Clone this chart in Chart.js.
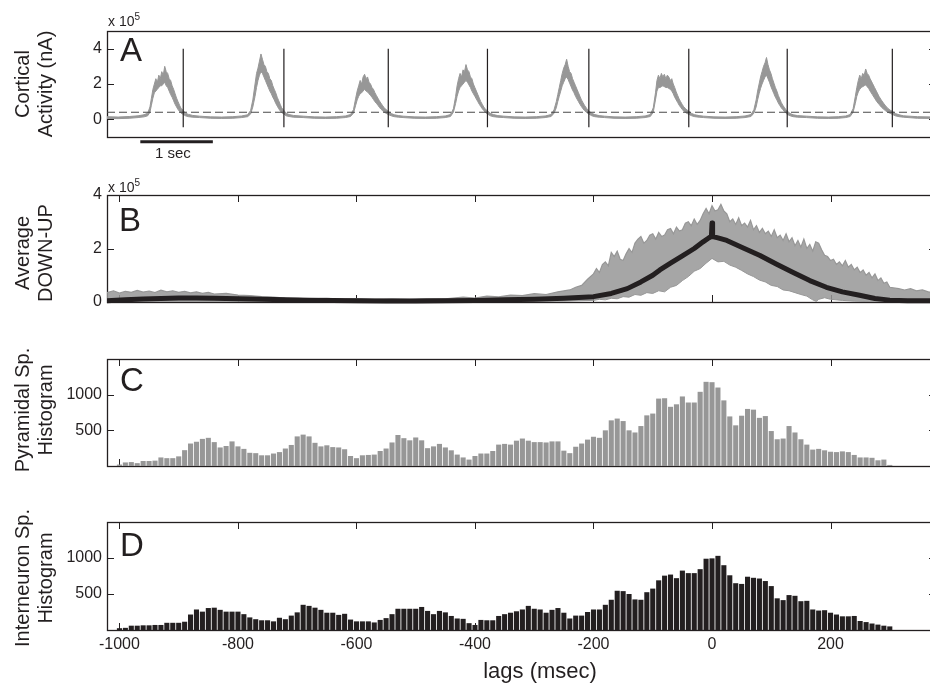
<!DOCTYPE html>
<html>
<head>
<meta charset="utf-8">
<script src="https://cdn.jsdelivr.net/npm/chart.js@4.4.1/dist/chart.umd.min.js"></script>
<style>
  html, body { margin: 0; padding: 0; background: #fff; overflow: hidden; }
  #wrap { position: relative; width: 930px; height: 686px; overflow: hidden; }
  canvas { position: absolute; left: 0; top: 0; }
  .txt { position: absolute; font-family: "Liberation Sans", Arial, sans-serif; color: #231f20; white-space: nowrap; }
  .ytitle { font-size: 20px; line-height: 23px; text-align: center; transform: translate(-50%, -50%) rotate(-90deg); }
  .panel { font-size: 33px; line-height: 32px; }
  .exp { font-size: 14px; line-height: 14px; }
  .exp sup { font-size: 10px; vertical-align: 6px; line-height: 0; }
</style>
</head>
<body>
<div id="wrap">
  <canvas id="cA" width="940" height="686"></canvas>
  <canvas id="cB" width="940" height="686"></canvas>
  <canvas id="cC" width="940" height="686"></canvas>
  <canvas id="cD" width="940" height="686"></canvas>

  <div class="txt ytitle" style="left:34px; top:84px;">Cortical<br>Activity (nA)</div>
  <div class="txt ytitle" style="left:34px; top:253px;">Average<br>DOWN-UP</div>
  <div class="txt ytitle" style="left:34px; top:410px;">Pyramidal Sp.<br>Histogram</div>
  <div class="txt ytitle" style="left:34px; top:578px;">Interneuron Sp.<br>Histogram</div>

  <div class="txt panel" style="left:120px; top:34px;">A</div>
  <div class="txt panel" style="left:119px; top:204px;">B</div>
  <div class="txt panel" style="left:120px; top:364px;">C</div>
  <div class="txt panel" style="left:120px; top:529px;">D</div>

  <div class="txt exp" style="left:108px; top:14px;">x 10<sup>5</sup></div>
  <div class="txt exp" style="left:108px; top:180px;">x 10<sup>5</sup></div>
  <div class="txt" style="left:155px; top:144px; font-size:15px;">1 sec</div>
  <div class="txt" style="left:540px; top:671px; font-size:22px; transform:translate(-50%,-50%);">lags (msec)</div>
</div>

<script>
// ---- panel A : cortical activity trace (x 10^5 nA) vs time (s), drawn as a noisy band ----
const timeA = [
  0, 0.15, 0.30, 0.42, 0.50, 0.55, 0.58, 0.60, 0.62, 0.64, 0.66, 0.68, 0.70, 0.72, 0.74, 0.76, 0.78, 0.80, 0.82, 0.84, 0.86, 0.88, 0.90, 0.92, 0.94, 0.96, 0.98, 1.00, 1.03, 1.06, 1.10, 1.16,
  1.25, 1.40, 1.55, 1.70, 1.82, 1.90, 1.94, 1.97, 2.00, 2.02, 2.04, 2.06, 2.08, 2.10, 2.12, 2.14, 2.16, 2.18, 2.20, 2.22, 2.24, 2.26, 2.28, 2.30, 2.32, 2.34, 2.36, 2.39, 2.42, 2.46, 2.52,
  2.65, 2.80, 2.95, 3.10, 3.22, 3.29, 3.33, 3.36, 3.38, 3.40, 3.42, 3.44, 3.46, 3.48, 3.50, 3.52, 3.54, 3.56, 3.58, 3.60, 3.62, 3.64, 3.66, 3.68, 3.70, 3.72, 3.74, 3.77, 3.80, 3.84, 3.88, 3.94,
  4.00, 4.15, 4.30, 4.45, 4.57, 4.64, 4.68, 4.71, 4.73, 4.75, 4.77, 4.79, 4.81, 4.83, 4.85, 4.87, 4.89, 4.91, 4.93, 4.95, 4.97, 4.99, 5.01, 5.03, 5.05, 5.07, 5.09, 5.11, 5.14, 5.18, 5.22, 5.28,
  5.36, 5.50, 5.65, 5.80, 5.92, 6.00, 6.04, 6.07, 6.09, 6.11, 6.13, 6.15, 6.17, 6.19, 6.21, 6.23, 6.25, 6.27, 6.29, 6.31, 6.33, 6.35, 6.37, 6.39, 6.41, 6.43, 6.45, 6.48, 6.51, 6.55, 6.59, 6.65,
  6.72, 6.85, 7.00, 7.15, 7.27, 7.34, 7.38, 7.41, 7.43, 7.45, 7.47, 7.49, 7.51, 7.53, 7.55, 7.57, 7.59, 7.61, 7.63, 7.65, 7.67, 7.69, 7.71, 7.73, 7.75, 7.77, 7.79, 7.82, 7.86, 7.90, 7.94, 8.00,
  8.06, 8.20, 8.35, 8.50, 8.62, 8.70, 8.74, 8.77, 8.79, 8.81, 8.83, 8.85, 8.87, 8.89, 8.91, 8.93, 8.95, 8.97, 8.99, 9.01, 9.03, 9.05, 9.07, 9.09, 9.11, 9.13, 9.15, 9.17, 9.19, 9.23, 9.27, 9.33,
  9.45, 9.60, 9.75, 9.88, 9.98, 10.04, 10.08, 10.11, 10.13, 10.15, 10.17, 10.19, 10.21, 10.23, 10.25, 10.27, 10.29, 10.31, 10.34, 10.37, 10.40, 10.43, 10.46, 10.49, 10.52, 10.55, 10.58, 10.61, 10.65, 10.70, 10.76, 10.95, 11.20
];
const upperA = [
  .15, .13, .16, .2, .26, .35, .7, 1.2, 1.7, 2.0, 2.3, 2.1, 2.5, 2.3, 2.7, 2.5, 3.0, 2.7, 2.6, 2.3, 2.2, 1.9, 1.7, 1.45, 1.2, 1.0, .8, .62, .5, .35, .28, .22,
  .18, .14, .13, .15, .19, .26, .5, 1.1, 2.0, 2.6, 2.9, 3.3, 3.7, 3.4, 3.1, 3.0, 2.7, 2.6, 2.3, 2.2, 1.9, 1.7, 1.5, 1.25, 1.05, .85, .65, .5, .35, .27, .22,
  .18, .14, .13, .15, .19, .27, .55, 1.2, 1.6, 1.9, 2.2, 2.0, 2.4, 2.55, 2.3, 2.4, 2.1, 2.0, 1.8, 1.7, 1.5, 1.35, 1.2, 1.05, .92, .8, .68, .55, .45, .33, .26, .21,
  .18, .14, .13, .15, .19, .27, .6, 1.3, 1.9, 2.3, 2.6, 2.4, 2.8, 2.7, 3.1, 2.8, 2.7, 2.4, 2.3, 2.0, 1.8, 1.6, 1.4, 1.2, 1.0, .85, .7, .58, .48, .34, .27, .21,
  .18, .14, .13, .15, .19, .27, .55, 1.0, 1.4, 1.8, 2.2, 2.6, 2.9, 3.1, 3.4, 3.0, 2.7, 2.6, 2.3, 2.1, 1.9, 1.7, 1.5, 1.3, 1.1, .95, .8, .62, .48, .34, .27, .21,
  .18, .14, .13, .15, .19, .27, .65, 1.5, 2.2, 2.5, 2.3, 2.6, 2.4, 2.55, 2.3, 2.5, 2.4, 2.2, 2.3, 2.0, 1.8, 1.55, 1.35, 1.15, 1.0, .85, .72, .58, .46, .33, .26, .21,
  .18, .14, .13, .15, .19, .27, .55, 1.1, 1.6, 2.0, 2.4, 2.7, 3.0, 3.2, 3.5, 3.1, 2.8, 2.6, 2.3, 2.05, 1.8, 1.6, 1.35, 1.15, .95, .8, .68, .56, .47, .33, .26, .21,
  .18, .14, .13, .15, .19, .27, .6, 1.3, 1.8, 2.2, 2.5, 2.3, 2.6, 2.5, 2.85, 2.6, 2.5, 2.3, 2.05, 1.8, 1.55, 1.3, 1.1, .92, .76, .62, .52, .46, .33, .26, .2, .15, .13
];
const lowerA = [
  .05, .04, .06, .1, .14, .2, .4, .8, 1.2, 1.5, 1.6, 1.7, 1.8, 1.9, 1.9, 2.0, 2.1, 1.9, 1.8, 1.6, 1.4, 1.25, 1.05, .85, .7, .55, .45, .35, .28, .2, .15, .12,
  .1, .06, .05, .06, .1, .15, .3, .7, 1.3, 1.8, 2.2, 2.5, 2.7, 2.6, 2.4, 2.2, 2.0, 1.8, 1.6, 1.45, 1.25, 1.1, .9, .75, .6, .48, .38, .3, .2, .16, .12,
  .1, .06, .05, .06, .1, .16, .35, .8, 1.1, 1.3, 1.45, 1.5, 1.6, 1.7, 1.6, 1.55, 1.45, 1.35, 1.25, 1.12, 1.0, .9, .8, .68, .58, .5, .42, .34, .27, .2, .15, .12,
  .1, .06, .05, .06, .1, .16, .4, .9, 1.3, 1.6, 1.8, 1.9, 2.0, 2.1, 2.2, 2.1, 1.95, 1.8, 1.6, 1.45, 1.3, 1.15, 1.0, .85, .72, .6, .5, .4, .3, .2, .15, .12,
  .1, .06, .05, .06, .1, .16, .35, .65, 1.0, 1.3, 1.6, 1.9, 2.1, 2.3, 2.4, 2.25, 2.05, 1.85, 1.65, 1.5, 1.3, 1.15, 1.0, .85, .72, .6, .5, .38, .3, .2, .15, .12,
  .1, .06, .05, .06, .1, .16, .4, 1.1, 1.6, 1.8, 1.8, 1.85, 1.9, 1.85, 1.8, 1.8, 1.75, 1.7, 1.6, 1.45, 1.25, 1.1, .95, .8, .68, .57, .47, .37, .28, .2, .15, .12,
  .1, .06, .05, .06, .1, .16, .35, .7, 1.1, 1.45, 1.75, 2.0, 2.2, 2.4, 2.5, 2.3, 2.1, 1.85, 1.65, 1.45, 1.25, 1.1, .92, .78, .65, .55, .45, .36, .28, .2, .15, .12,
  .1, .06, .05, .06, .1, .16, .4, .9, 1.3, 1.55, 1.7, 1.8, 1.85, 1.9, 1.95, 1.85, 1.75, 1.6, 1.4, 1.2, 1.0, .85, .7, .58, .48, .4, .34, .28, .2, .15, .12, .06, .05
];
const downTimesA = [1.03, 2.39, 3.80, 5.14, 6.51, 7.86, 9.19, 10.61];   // black markers
const thresholdA = 0.4;
const scaleBarA = [0.45, 1.43];                                        // 1 sec
const yTicksA = [0, 2, 4];
const yTickLabelsA = ['0', '2', '4'];

// ---- panel B : DOWN-UP averages vs lag (ms) ----
const lagUpperB = [-1021,-1010,-1000,-990,-980,-970,-960,-950,-940,-930,-920,-910,-900,-890,-880,-870,-860,-850,-840,-820,
  -800,-780,-760,-740,-720,-700,-680,-650,-620,-600,-570,-540,-510,-480,-450,-420,-400,-380,-360,-340,
  -320,-300,-280,-260,-240,-230,-220,-210,
  -200,-195,-190,-185,-180,-175,-170,-165,-160,-155,-150,-145,-140,-135,-130,-125,-120,-115,-110,-105,
  -100,-95,-90,-85,-80,-75,-70,-65,-60,-55,-50,-45,-40,-35,-30,-25,-20,-15,-10,-5,
  0,5,10,15,20,25,30,35,40,45,50,55,60,65,70,75,80,85,90,95,
  100,105,110,115,120,125,130,135,140,145,150,155,160,165,170,175,180,185,190,195,
  200,205,210,215,220,225,230,235,240,245,250,255,260,265,270,275,280,285,290,295,
  300,315,325,335,345,355,365,378];
const upperB = [.35,.42,.33,.40,.36,.43,.37,.41,.35,.44,.38,.42,.36,.40,.34,.38,.32,.36,.30,.32,
  .26,.24,.20,.18,.15,.14,.12,.14,.11,.13,.10,.12,.10,.13,.12,.18,.15,.22,.19,.26,
  .24,.31,.28,.38,.45,.55,.62,.85,
  1.05,1.25,1.1,1.4,1.5,1.35,1.85,1.7,1.9,1.6,1.55,1.8,2.0,1.85,2.2,2.35,2.45,2.2,2.3,2.5,
  2.55,2.35,2.6,2.45,2.5,2.7,2.75,2.55,2.8,2.65,2.7,2.95,3.0,2.85,3.1,2.9,3.05,3.3,3.5,3.3,
  3.6,3.4,3.45,3.65,3.4,3.3,3.0,3.1,2.9,3.15,2.85,2.95,2.8,3.05,2.7,2.85,2.6,2.75,2.55,2.65,
  2.45,2.7,2.4,2.5,2.3,2.55,2.25,2.4,2.1,2.3,2.05,2.35,2.0,2.15,1.9,2.25,2.2,1.95,1.75,1.7,
  1.55,1.6,1.4,1.5,1.35,1.55,1.3,1.4,1.2,1.3,1.1,1.2,1.0,1.1,0.9,1.05,0.8,0.9,0.7,0.75,
  0.55,0.5,0.45,0.5,0.42,0.45,0.38,0.35];
const lagLowerB = [-1021,-400,-250,-200,-190,-180,-170,-160,-150,-140,-130,-120,-110,-100,-90,-80,-70,-60,-50,-40,-30,-20,-10,
  0,10,20,30,40,50,60,70,80,90,100,110,120,130,140,150,160,170,176,180,190,200,220,240,270,300,378];
const lowerB = [0,0,0.03,0.06,0.1,0.08,0.14,0.12,0.2,0.18,0.28,0.25,0.35,0.32,0.42,0.38,0.55,0.62,0.8,0.95,1.15,1.25,1.45,
  1.63,1.5,1.52,1.38,1.3,1.18,1.05,0.95,0.82,0.75,0.62,0.58,0.45,0.42,0.35,0.28,0.22,0.08,0.02,0.1,0.16,0.1,0.06,0.03,0.01,0,0];
const lagMeanB = [-1021,-990,-960,-930,-900,-870,-840,-800,-760,-720,-680,-640,-600,-550,-500,-450,-400,-350,-300,-250,
  -200,-170,-143,-120,-100,-88,-70,-50,-30,-15,-5,-1,0,1,10,25,50,81,110,137,
  165,193,220,249,275,300,330,378];
const meanB = [0.05,0.08,0.11,0.13,0.15,0.15,0.14,0.12,0.1,0.08,0.07,0.06,0.05,0.04,0.04,0.05,0.06,0.08,0.1,0.14,
  0.2,0.32,0.5,0.75,1.0,1.2,1.45,1.72,2.0,2.25,2.4,2.45,2.95,2.45,2.4,2.3,2.05,1.74,1.4,1.1,
  0.8,0.55,0.38,0.25,0.13,0.07,0.05,0.05];
const yTicksB = [0, 2, 4];
const yTickLabelsB = ['0', '2', '4'];

// ---- panels C, D : spike histograms, 10 ms bins ----
const binsLag = [-1000,-990,-980,-970,-960,-950,-940,-930,-920,-910,
  -900,-890,-880,-870,-860,-850,-840,-830,-820,-810,
  -800,-790,-780,-770,-760,-750,-740,-730,-720,-710,
  -700,-690,-680,-670,-660,-650,-640,-630,-620,-610,
  -600,-590,-580,-570,-560,-550,-540,-530,-520,-510,
  -500,-490,-480,-470,-460,-450,-440,-430,-420,-410,
  -400,-390,-380,-370,-360,-350,-340,-330,-320,-310,
  -300,-290,-280,-270,-260,-250,-240,-230,-220,-210,
  -200,-190,-180,-170,-160,-150,-140,-130,-120,-110,
  -100,-90,-80,-70,-60,-50,-40,-30,-20,-10,
  0,10,20,30,40,50,60,70,80,90,
  100,110,120,130,140,150,160,170,180,190,
  200,210,220,230,240,250,260,270,280,290,
  300];
const pyramidalCounts = [20,50,55,40,70,70,75,120,110,110,
  135,222,315,340,380,395,335,260,280,345,
  275,240,185,180,150,150,175,195,245,295,
  415,440,415,325,275,290,265,260,235,140,
  110,150,155,160,210,245,330,435,390,360,
  400,360,250,275,310,260,220,160,120,90,
  140,175,175,210,300,310,300,355,385,355,
  335,335,330,345,345,215,180,270,315,370,
  410,395,500,640,665,630,500,470,560,710,
  735,945,950,830,865,975,890,890,1040,1180,
  1175,1100,920,695,570,705,800,790,675,700,
  490,375,385,560,470,375,300,230,240,220,
  200,195,205,195,155,120,120,115,80,90,
  15];
const interneuronCounts = [25,30,60,60,65,65,70,70,100,100,
  100,115,215,285,255,305,310,280,255,255,
  255,220,175,150,135,135,120,170,150,200,
  245,350,335,310,280,240,240,210,225,145,
  120,120,120,105,140,165,220,295,295,295,
  295,320,265,220,265,245,195,160,155,95,
  70,140,135,135,195,220,240,260,285,335,
  295,285,240,280,305,240,160,200,200,250,
  285,285,350,420,545,540,500,425,420,525,
  575,690,755,770,720,825,790,790,845,990,
  995,1030,900,760,650,640,740,725,715,680,
  610,440,415,485,475,400,405,285,270,275,
  240,215,190,190,195,125,110,90,75,60,
  50];
const yTicksHist = [500, 1000];
const yTickLabelsHist = ['500', '1000'];

const lagTicks = [-1000, -800, -600, -400, -200, 0, 200];
const lagTickLabels = ['-1000', '-800', '-600', '-400', '-200', '0', '200'];
const LAG_MIN = -1021, LAG_MAX = 378;

const INK = '#231f20';
const GRAY = '#979797';

Chart.defaults.font.family = '"Liberation Sans", Arial, sans-serif';
Chart.defaults.font.size = 16;
Chart.defaults.color = INK;

const pts = (xs, ys) => xs.map((x, i) => ({ x, y: ys[i] }));

// box, inward ticks (MATLAB look), drawn underneath the data
const framePlugin = {
  id: 'frame',
  beforeDatasetsDraw(chart, args, o) {
    const { ctx, chartArea: a } = chart;
    const xs = chart.scales.x, ys = chart.scales.y;
    ctx.save();
    ctx.strokeStyle = INK;
    ctx.lineWidth = 1.3;
    ctx.strokeRect(a.left + 0.5, a.top + 0.5, a.right - a.left, a.bottom - a.top);
    ctx.lineWidth = 1;
    ctx.beginPath();
    ys.ticks.forEach(t => {
      const py = Math.round(ys.getPixelForValue(t.value)) + 0.5;
      ctx.moveTo(a.left, py); ctx.lineTo(a.left + 7, py);
      ctx.moveTo(a.right, py); ctx.lineTo(a.right - 7, py);
    });
    (o.xTicks || []).forEach(v => {
      const px = Math.round(xs.getPixelForValue(v)) + 0.5;
      ctx.moveTo(px, a.top); ctx.lineTo(px, a.top + 7);
      ctx.moveTo(px, a.bottom); ctx.lineTo(px, a.bottom - 7);
    });
    ctx.stroke();
    ctx.restore();
  }
};

function yAxis(min, max, ticks, labels) {
  return {
    type: 'linear', min, max, position: 'left',
    grid: { display: false, drawTicks: false }, border: { display: false },
    afterBuildTicks: s => { s.ticks = ticks.map(v => ({ value: v })); },
    afterFit: s => { s.width = 60; },
    ticks: { padding: 5, callback: (v, i) => labels[i] }
  };
}

function xAxis(min, max, showLabels) {
  if (!showLabels) return { type: 'linear', min, max, offset: false, display: false };
  return {
    type: 'linear', min, max, offset: false, position: 'bottom',
    grid: { display: false, drawTicks: false }, border: { display: false },
    afterBuildTicks: s => { s.ticks = lagTicks.map(v => ({ value: v })); },
    afterFit: s => { s.height = 30; },
    ticks: { autoSkip: false, maxRotation: 0, padding: 5, callback: (v, i) => lagTickLabels[i] }
  };
}

function baseOptions(top, bottom, x, y, xTicks) {
  return {
    responsive: false,
    animation: false,
    devicePixelRatio: 1,
    events: [],
    layout: { autoPadding: false, padding: { left: 47, right: 4, top, bottom } },
    elements: { point: { radius: 0 }, line: { tension: 0 } },
    plugins: { legend: { display: false }, tooltip: { enabled: false }, frame: { xTicks } },
    scales: { x, y }
  };
}

// A
const markerPts = downTimesA.flatMap(t => [{ x: t, y: 4 }, { x: t, y: -0.45 }, { x: t, y: null }]);
new Chart(document.getElementById('cA'), {
  type: 'line',
  data: { datasets: [
    { data: markerPts, borderColor: INK, borderWidth: 1.2, spanGaps: false },
    { data: [{ x: 0, y: thresholdA }, { x: 11.2, y: thresholdA }], borderColor: '#4a4a4a', borderWidth: 1.2, borderDash: [8, 4] },
    { data: [{ x: scaleBarA[0], y: -1.27 }, { x: scaleBarA[1], y: -1.27 }], borderColor: INK, borderWidth: 3, clip: false },
    { data: pts(timeA, lowerA), borderColor: GRAY, borderWidth: 1 },
    { data: pts(timeA, upperA), borderColor: GRAY, borderWidth: 1, fill: '-1', backgroundColor: GRAY }
  ] },
  options: baseOptions(31, 686 - 137, xAxis(0, 11.2, false), yAxis(-1, 5, yTicksA, yTickLabelsA), null),
  plugins: [framePlugin]
});

// B
new Chart(document.getElementById('cB'), {
  type: 'line',
  data: { datasets: [
    { data: pts(lagMeanB, meanB), borderColor: INK, borderWidth: 5, borderJoinStyle: 'round', clip: { left: 0, top: 0, right: 0, bottom: 3 } },
    { data: pts(lagLowerB, lowerB), borderColor: GRAY, borderWidth: 1 },
    { data: pts(lagUpperB, upperB), borderColor: GRAY, borderWidth: 1.2, fill: '-1', backgroundColor: 'rgba(151,151,151,0.85)' }
  ] },
  options: baseOptions(195, 686 - 302, xAxis(LAG_MIN, LAG_MAX, false), yAxis(0, 4, yTicksB, yTickLabelsB), lagTicks),
  plugins: [framePlugin]
});

// C
new Chart(document.getElementById('cC'), {
  type: 'bar',
  data: { datasets: [
    { data: pts(binsLag, pyramidalCounts), backgroundColor: GRAY, borderWidth: 0, barPercentage: 1, categoryPercentage: 0.86 }
  ] },
  options: baseOptions(359, 686 - 466, xAxis(LAG_MIN, LAG_MAX, false), yAxis(0, 1500, yTicksHist, yTickLabelsHist), lagTicks),
  plugins: [framePlugin]
});

// D
new Chart(document.getElementById('cD'), {
  type: 'bar',
  data: { datasets: [
    { data: pts(binsLag, interneuronCounts), backgroundColor: INK, borderWidth: 0, barPercentage: 1, categoryPercentage: 0.86 }
  ] },
  options: baseOptions(522, 686 - 630 - 30, xAxis(LAG_MIN, LAG_MAX, true), yAxis(0, 1500, yTicksHist, yTickLabelsHist), lagTicks),
  plugins: [framePlugin]
});
</script>
</body>
</html>
